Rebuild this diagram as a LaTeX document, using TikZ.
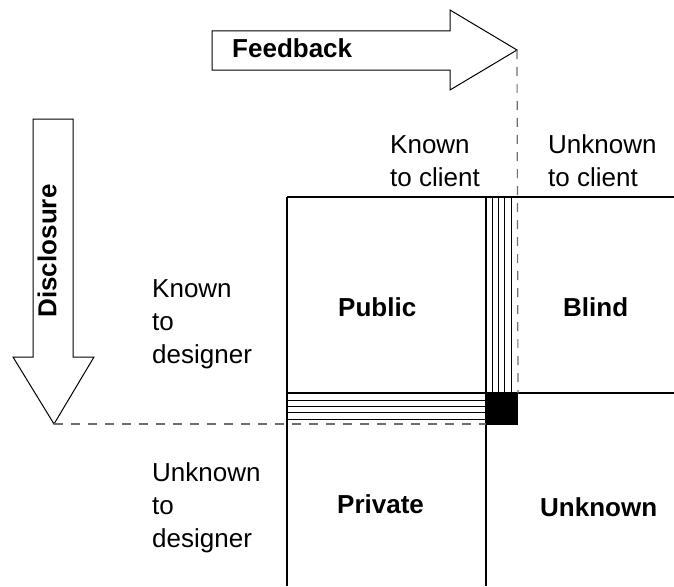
\documentclass[tikz,border=0pt]{standalone}
\usepackage{fontspec}
\setmainfont{Liberation Sans}
\usepackage{xcolor}
\usepackage{tikz}
\usetikzlibrary{positioning}
\definecolor{ink}{HTML}{000000}
\definecolor{dashgray}{HTML}{6E6E6E}
\newcommand{\gridfont}{\fontsize{26}{33}\selectfont}
\tikzset{
    every picture/.style={line join=miter},
    gridline/.style={draw=ink,line width=1.2pt},
    stripe/.style={draw=ink,line width=1pt},
    bigarrow/.style={draw=ink,fill=white,line width=1pt},
    guide/.style={draw=dashgray,line width=1.2pt,dash pattern=on 9pt off 8pt},
    sidelabel/.style={anchor=base west,inner sep=0pt,align=left,font=\gridfont},
    cellname/.style={anchor=base west,inner sep=0pt,font=\gridfont\bfseries}
}

\begin{document}
\begin{tikzpicture}[x=1pt,y=-1pt]
  \useasboundingbox (0,0) rectangle (674,586);

  \draw[bigarrow] (212,31) -- (450,31) -- (450,10) -- (517,50)
    -- (450,90) -- (450,70) -- (212,70) -- cycle;
  \coordinate (feedtip) at (517,50);
  \node[cellname] (feedback) at (232,58) {Feedback};

  \draw[bigarrow] (33,119) -- (73,119) -- (73,357) -- (94,357)
    -- (54,424) -- (13,357) -- (33,357) -- cycle;
  \coordinate (disctip) at (54,424);
  \node[inner sep=0pt,rotate=90,font=\gridfont\bfseries] (disclosure) at (47,251) {Disclosure};

  \node[sidelabel] (kclient) at (390,186) {Known\\to client};
  \node[sidelabel] (uclient) at (548,186) {Unknown\\to client};
  \node[sidelabel] (kdesigner) at (152,363) {Known\\to\\designer};
  \node[sidelabel] (udesigner) at (152,547) {Unknown\\to\\designer};

  \foreach \xs in {492,498.5,504.7,511}
    \draw[stripe] (\xs,197) -- (\xs,393);
  \foreach \ys in {400,406,412.5,419}
    \draw[stripe] (287,\ys) -- (486,\ys);

  \draw[gridline] (287,197) -- (674,197);
  \draw[gridline] (287,393) -- (674,393);
  \draw[gridline] (287,197) -- (287,586);
  \draw[gridline] (486,197) -- (486,586);
  \fill[ink] (486,393) rectangle (518,425);
  \coordinate (corner) at (518,393);
  \coordinate (cornerleft) at (486,424);

  \draw[guide] (feedtip) -- (corner);
  \draw[guide] (disctip) -- (cornerleft);

  \node[cellname] (public) at (338,316) {Public};
  \node[cellname] (blind) at (563,316) {Blind};
  \node[cellname] (private) at (337,513) {Private};
  \node[cellname] (unknown) at (540,516) {Unknown};
\end{tikzpicture}
\end{document}
